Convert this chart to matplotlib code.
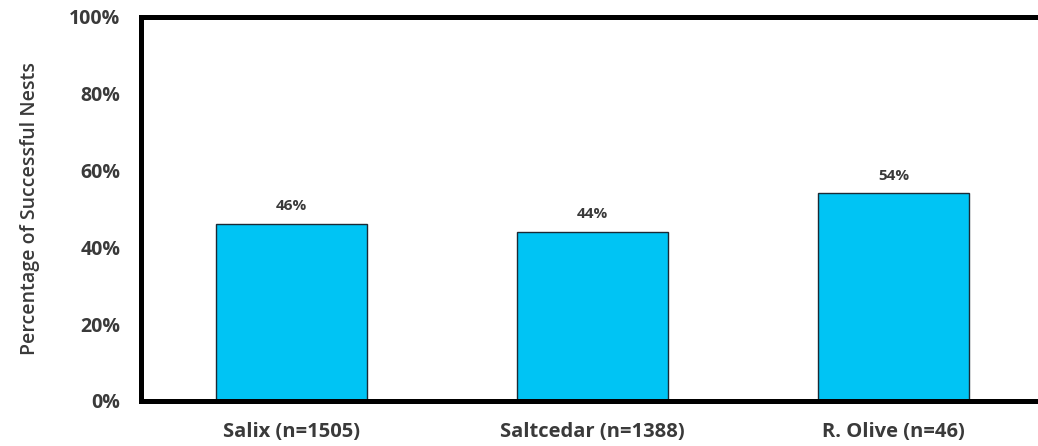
import matplotlib.pyplot as plt
from matplotlib.ticker import PercentFormatter

plt.rcParams["font.family"] = ["Open Sans", "DejaVu Sans"]

# nest success by host plant
categories = ["Salix (n=1505)", "Saltcedar (n=1388)", "R. Olive (n=46)"]
success_pct = [46, 44, 54]
value_labels = ["46%", "44%", "54%"]
y_ticks = [0, 20, 40, 60, 80, 100]

BAR_COLOR = "#00C4F4"
TEXT_COLOR = "#3a3a3a"

fig = plt.figure(figsize=(10.38, 4.46), dpi=100)
ax = fig.add_axes([141 / 1038, 45 / 446, 903 / 1038, 384.5 / 446])

x = range(len(categories))
bars = ax.bar(x, success_pct, width=0.5, color=BAR_COLOR, edgecolor="#1a2a35", linewidth=1.0, zorder=2)

for bar, label in zip(bars, value_labels):
    ax.text(bar.get_x() + bar.get_width() / 2, bar.get_height() + 2.8, label,
            ha="center", va="bottom", fontsize=11, fontweight="bold", color=TEXT_COLOR)

ax.set_xlim(-0.5, 2.5)
ax.set_ylim(0, 100)
ax.set_yticks(y_ticks)
ax.yaxis.set_major_formatter(PercentFormatter(decimals=0))
ax.set_xticks(list(x))
ax.set_xticklabels(categories, fontsize=14.5, fontweight="bold", color=TEXT_COLOR)
ax.tick_params(axis="y", length=0, pad=15, labelsize=14, labelcolor=TEXT_COLOR)
ax.tick_params(axis="x", length=0, pad=15)
for lbl in ax.get_yticklabels():
    lbl.set_fontweight("bold")

ax.set_ylabel("Percentage of Successful Nests", fontsize=14, fontweight="semibold",
              color=TEXT_COLOR, labelpad=21)

for side in ["left", "top", "bottom"]:
    ax.spines[side].set_linewidth(3.6)
    ax.spines[side].set_color("black")
ax.spines["right"].set_visible(False)

fig.savefig("out.png", dpi=100)
